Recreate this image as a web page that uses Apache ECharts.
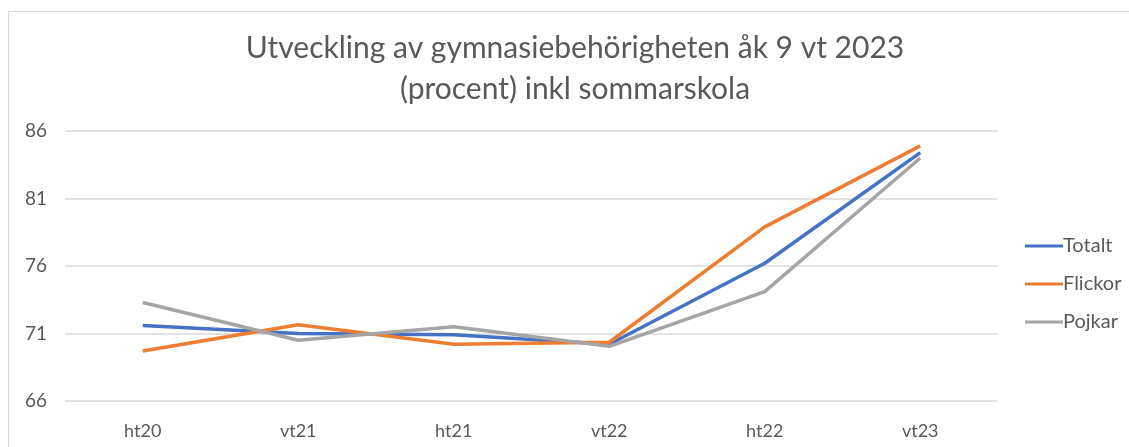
<!DOCTYPE html>
<html>
<head>
<meta charset="utf-8">
<script src="https://cdn.jsdelivr.net/npm/echarts@6/dist/echarts.min.js"></script>
<style>
  html, body { margin: 0; padding: 0; background: #fff; }
  #chart { width: 1129px; height: 447px; }
</style>
</head>
<body>
<div id="chart"></div>
<script>
var categories = ['ht20', 'vt21', 'ht21', 'vt22', 'ht22', 'vt23'];
var totalt = [71.6, 71.0, 70.9, 70.2, 76.2, 84.4];
var flickor = [69.7, 71.65, 70.2, 70.35, 78.9, 84.9];
var pojkar = [73.3, 70.5, 71.5, 70.05, 74.1, 84.0];
var yTicks = [66, 71, 76, 81, 86];

var font = 'Lato, "Open Sans", sans-serif';
var grey = '#595959';

function lineSeries(name, data, color) {
    return {
        name: name,
        type: 'line',
        data: data,
        symbol: 'none',
        lineStyle: { width: 3.5, color: color },
        itemStyle: { color: color }
    };
}

var chart = echarts.init(document.getElementById('chart'));
var option = {
    animation: false,
    textStyle: { fontFamily: font },
    title: {
        text: 'Utveckling av gymnasiebehörigheten åk 9 vt 2023\n(procent) inkl sommarskola',
        left: 570,
        textAlign: 'center',
        top: 23,
        textStyle: {
            fontFamily: font,
            fontWeight: 'normal',
            fontSize: 30,
            lineHeight: 41,
            color: grey
        }
    },
    legend: {
        orient: 'vertical',
        left: 1020,
        top: 231,
        itemWidth: 38,
        itemHeight: 3,
        itemGap: 18,
        icon: 'rect',
        textStyle: { fontSize: 20, color: grey, padding: [0, 0, 0, -5] },
        data: ['Totalt', 'Flickor', 'Pojkar']
    },
    grid: { left: 65, right: 131, top: 131, bottom: 46 },
    xAxis: {
        type: 'category',
        data: categories,
        boundaryGap: true,
        axisLine: { show: false },
        axisTick: { show: false },
        axisLabel: { fontSize: 18, color: grey, margin: 21 }
    },
    yAxis: {
        type: 'value',
        min: yTicks[0],
        max: yTicks[yTicks.length - 1],
        interval: 5,
        axisLine: { show: false },
        axisTick: { show: false },
        axisLabel: { fontSize: 19, color: grey, margin: 18 },
        splitLine: { lineStyle: { color: '#d9d9d9', width: 1.5 } }
    },
    graphic: [{
        type: 'rect',
        shape: { x: 8.5, y: 11.5, width: 1140, height: 460 },
        style: { fill: null, stroke: '#d9d9d9', lineWidth: 1 },
        silent: true
    }],
    series: [
        lineSeries('Totalt', totalt, '#4472C4'),
        lineSeries('Flickor', flickor, '#ED7D31'),
        lineSeries('Pojkar', pojkar, '#A5A5A5')
    ]
};
chart.setOption(option);
</script>
</body>
</html>
